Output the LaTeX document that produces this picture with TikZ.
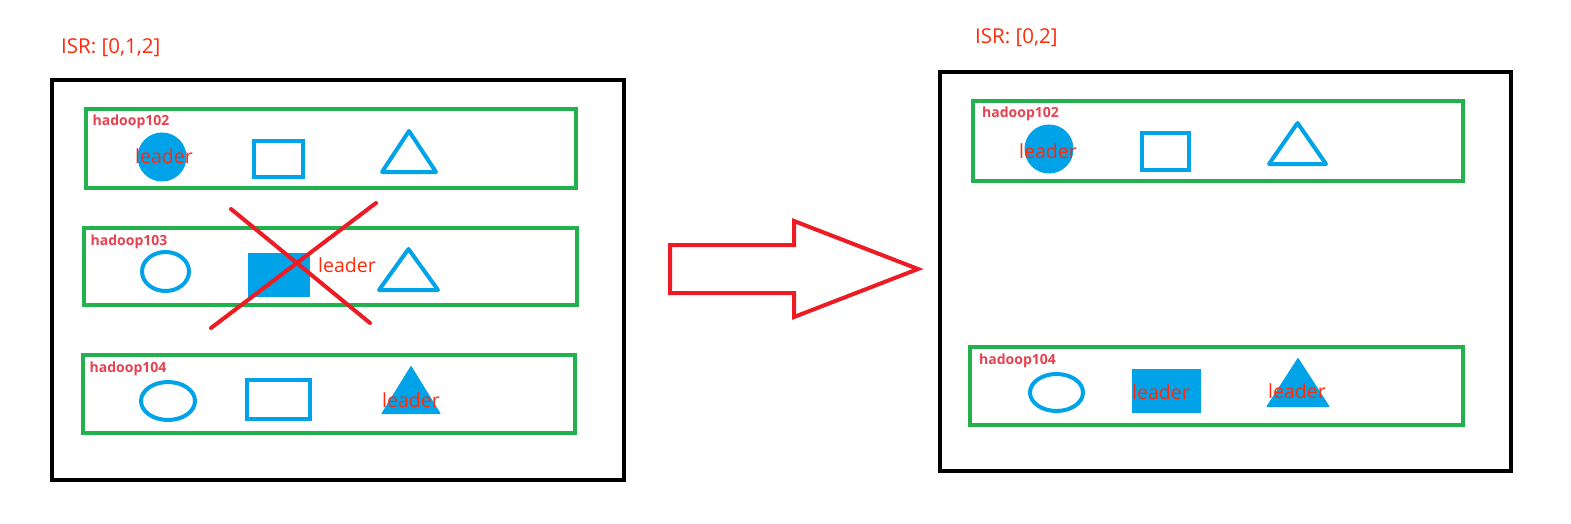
\documentclass[tikz,border=0pt]{standalone}
\usepackage{fontspec}
\setmainfont{Open Sans}
\usetikzlibrary{calc,shapes.geometric}
\definecolor{pblue}{HTML}{00A2E8}
\definecolor{pgreen}{HTML}{22B14C}
\definecolor{pred}{HTML}{ED1C24}
\definecolor{tred}{HTML}{FF2A0A}
\definecolor{lred}{HTML}{E8414F}
\tikzset{
  frame/.style={draw=black, line width=4.5pt, inner sep=0pt},
  hbox/.style={draw=pgreen, line width=4pt, inner sep=0pt},
  hlbl/.style={font=\fontsize{14}{16}\selectfont\bfseries, text=lred, inner sep=0pt, anchor=base west},
  isr/.style={font=\fontsize{20.5}{22}\selectfont, text=tred, inner sep=0pt, anchor=base west},
  ldr/.style={font=\fontsize{19.5}{21}\selectfont, text=tred, inner sep=0pt, anchor=base},
  repl/.style={draw=pblue, line width=4pt, inner sep=0pt},
  lead/.style={fill=pblue, draw=pblue, line width=1pt, inner sep=0pt},
  triline/.style={draw=pblue, line width=4pt, line join=round},
  trifill/.style={fill=pblue, draw=pblue, line width=1pt, line join=round},
  cross/.style={draw=pred, line width=4pt, line cap=round},
  bigarrow/.style={draw=pred, line width=4pt},
}
% triangle: style, name, centre, half width, half height
\newcommand{\repltri}[5]{\coordinate (#2) at #3;
  \path[#1] ($(#2)+(0,-#5)$) -- ($(#2)+(#4,#5)$) -- ($(#2)+(-#4,#5)$) -- cycle;}

\begin{document}
\begin{tikzpicture}[x=1pt, y=-1pt]
\useasboundingbox (0,0) rectangle (1571,524);
% ---- before ----
\node[isr] (isrl) at (61,54) {ISR: [0,1,2]};
\node[frame, minimum width=572, minimum height=400] (lframe) at (338,280) {};
\node[hbox, minimum width=490, minimum height=79] (l102) at (331,148.5) {};
\node[hbox, minimum width=493, minimum height=77] (l103) at (330.5,266.5) {};
\node[hbox, minimum width=492, minimum height=78] (l104) at (329,394) {};
\foreach \b/\t in {l102/hadoop102,l103/hadoop103,l104/hadoop104}{
  \node[hlbl] (\b lbl) at ([xshift=8.5pt,yshift=-19pt]\b.north west) {\t};}
% hadoop102
\node[lead, circle, minimum size=48] (l102c) at (162,157) {};
\node[repl, minimum width=49, minimum height=36] (l102r) at (278.5,159) {};
\repltri{triline}{l102t}{(409,151.5)}{27}{20.5}
\node[ldr] (l102ldr) at (164,163) {leader};
% hadoop103
\node[repl, ellipse, minimum width=47, minimum height=39] (l103c) at (165.5,271.5) {};
\node[lead, minimum width=61, minimum height=43] (l103r) at (278.5,274.5) {};
\repltri{triline}{l103t}{(408.5,269.5)}{29.5}{20.5}
\node[ldr] (l103ldr) at (347,272) {leader};
% hadoop104
\node[repl, ellipse, minimum width=54, minimum height=38] (l104c) at (168,401) {};
\node[repl, minimum width=63, minimum height=39] (l104r) at (278.5,399.5) {};
\repltri{trifill}{l104t}{(411,390)}{29}{23.5}
\node[ldr] (l104ldr) at (411,407) {leader};
% broker down
\coordinate (xa) at (231,209); \coordinate (xb) at (370,323);
\coordinate (xc) at (376,203); \coordinate (xd) at (211,328);
\draw[cross] (xa) -- (xb);
\draw[cross] (xc) -- (xd);
% ---- arrow ----
\coordinate (atail) at (670,245);
\coordinate (atip) at (918,269);
\draw[bigarrow] (atail) -- (794,245) -- (794,221) -- (atip) -- (794,317) -- (794,293) -- (670,293) -- cycle;
% ---- after ----
\node[isr] (isrr) at (975,44) {ISR: [0,2]};
\node[frame, minimum width=571, minimum height=399] (rframe) at (1225.5,271.5) {};
\node[hbox, minimum width=490, minimum height=80] (r102) at (1218,141) {};
\node[hbox, minimum width=493, minimum height=78] (r104) at (1216.5,386) {};
\foreach \b/\t in {r102/hadoop102,r104/hadoop104}{
  \node[hlbl] (\b lbl) at ([xshift=11pt,yshift=-19pt]\b.north west) {\t};}
% hadoop102
\node[lead, circle, minimum size=48] (r102c) at (1049,149) {};
\node[repl, minimum width=47, minimum height=37] (r102r) at (1165.5,151.5) {};
\repltri{triline}{r102t}{(1297.5,143.5)}{28.5}{20.5}
\node[ldr] (r102ldr) at (1048,158) {leader};
% hadoop104
\node[repl, ellipse, minimum width=53, minimum height=37] (r104c) at (1056.5,392.5) {};
\node[lead, minimum width=68, minimum height=43] (r104r) at (1166,390.5) {};
\repltri{trifill}{r104t}{(1298,382.5)}{31}{24}
\node[ldr] (r104ldr1) at (1161,399) {leader};
\node[ldr] (r104ldr2) at (1297,398) {leader};
\end{tikzpicture}
\end{document}
